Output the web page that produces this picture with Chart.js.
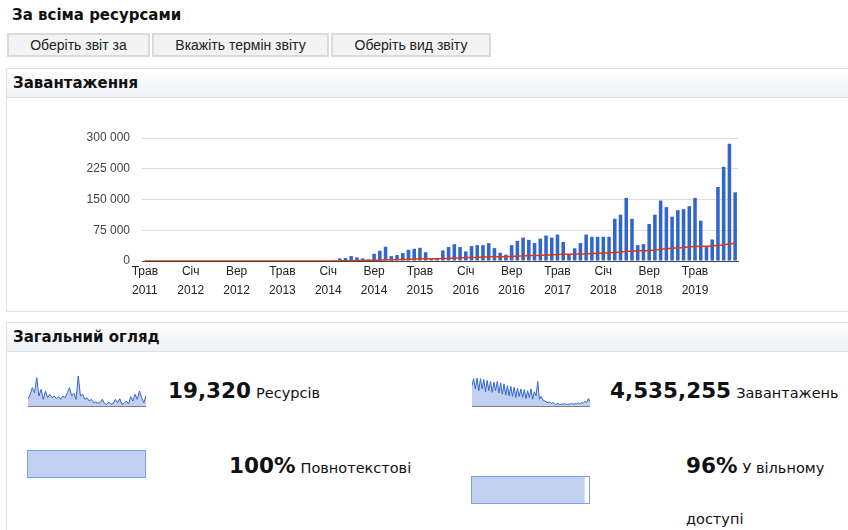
<!DOCTYPE html>
<html>
<head>
<meta charset="utf-8">
<script src="https://cdn.jsdelivr.net/npm/chart.js@4/dist/chart.umd.min.js"></script>
<style>
  body { margin: 0; background: #fff; width: 848px; height: 530px; overflow: hidden; position: relative; font-family: "DejaVu Sans", Verdana, sans-serif; color: #111; }
  .abs { position: absolute; }
  .title { left: 12px; top: 6px; font-size: 15px; font-weight: bold; }
  .btn { top: 33px; height: 20px; line-height: 20px; background: #f3f3f3; border: 2px solid #dadada; font-family: "Liberation Sans", Arial, sans-serif; font-size: 14px; text-align: center; color: #222; }
  .panel { left: 6px; width: 860px; border: 1px solid #e0e0e0; }
  .panel .hd { height: 28px; line-height: 29px; padding-left: 6px; font-weight: bold; font-size: 15px; background: linear-gradient(#ffffff, #eef0f2); border-bottom: 1px solid #dfe1e5; }
  .big { font-weight: bold; font-size: 21.5px; }
  .lbl { font-size: 14.5px; }
  .spark { border-bottom: 1px solid #7f7f7f; }
  .prog { border: 1px solid #7d9fe3; background: #fff; }
</style>
</head>
<body>
<div class="abs title">За всіма ресурсами</div>
<div class="abs btn" style="left:7px;width:139px;">Оберіть звіт за</div>
<div class="abs btn" style="left:152px;width:173px;">Вкажіть термін звіту</div>
<div class="abs btn" style="left:331px;width:156px;">Оберіть вид звіту</div>

<div class="abs panel" style="top:68px;height:242px;"><div class="hd">Завантаження</div></div>
<div class="abs" style="left:60px;top:110px;width:700px;height:200px;"><canvas id="mainChart"></canvas></div>

<div class="abs panel" style="top:322px;height:220px;"><div class="hd">Загальний огляд</div></div>

<div class="abs spark" style="left:28px;top:374px;width:118px;height:32px;"><canvas id="spark1"></canvas></div>
<div class="abs" style="left:168px;top:378px;"><span class="big">19,320</span> <span class="lbl">Ресурсів</span></div>

<div class="abs spark" style="left:472px;top:376px;width:118px;height:30px;"><canvas id="spark2"></canvas></div>
<div class="abs" style="left:610px;top:378px;"><span class="big">4,535,255</span> <span class="lbl">Завантажень</span></div>

<div class="abs prog" style="left:27px;top:450px;width:117px;height:26px;"><canvas id="prog1"></canvas></div>
<div class="abs" style="left:229px;top:453px;"><span class="big">100%</span> <span class="lbl">Повнотекстові</span></div>

<div class="abs prog" style="left:471px;top:476px;width:117px;height:26px;"><canvas id="prog2"></canvas></div>
<div class="abs" style="left:686px;top:453px;"><span class="big">96%</span> <span class="lbl">У вільному</span></div>
<div class="abs lbl" style="left:686px;top:511px;">доступі</div>

<script>
// months, starting May 2011
const monthNames = ['Січ', 'Лют', 'Бер', 'Квіт', 'Трав', 'Черв', 'Лип', 'Серп', 'Вер', 'Жовт', 'Лист', 'Груд'];
const startYear = 2011;
const startMonth = 4;
const monthCount = 104;
const labelEvery = 8;

const yTickLabels = ['0', '75 000', '150 000', '225 000', '300 000'];

// monthly downloads (bars)
const downloads = [
    0, 0, 0, 0, 0, 0, 0, 0, 0, 0,
    0, 0, 0, 0, 0, 0, 0, 0, 0, 0,
    0, 0, 0, 0, 0, 0, 0, 0, 0, 0,
    0, 0, 0, 2400, 6400, 7200, 12000, 8900, 6400, 4000,
    17700, 25000, 34700, 12000, 14500, 19300, 27400, 29800, 32200, 21500,
    7000, 7000, 25800, 34000, 41000, 34000, 23400, 36300, 38700, 38700,
    43500, 31500, 20000, 15300, 38700, 49000, 57000, 51500, 43700, 54500,
    62000, 57000, 64500, 46500, 16500, 31000, 43700, 64500, 59000, 59000,
    59000, 59000, 103000, 113000, 154000, 103000, 38700, 41100, 90300, 113000,
    147500, 131400, 108000, 124000, 126500, 133800, 154000, 98300, 34700, 52400,
    180500, 229700, 286000, 167600
];

// red line
const average = [
    0, 0, 0, 0, 0, 0, 0, 0, 0, 0,
    0, 0, 0, 0, 0, 0, 0, 0, 0, 0,
    0, 0, 0, 0, 0, 0, 0, 0, 0, 0,
    0, 0, 0, 100, 250, 450, 750, 1000, 1100, 1200,
    1600, 2100, 2900, 3100, 3400, 3700, 4200, 4700, 5300, 5700,
    5700, 5700, 6100, 6600, 7200, 7700, 8000, 8500, 9000, 9500,
    10000, 10400, 10600, 10700, 11100, 11700, 12300, 12900, 13400, 14000,
    14600, 15200, 15900, 16300, 16400, 16600, 17000, 17600, 18200, 18700,
    19200, 19700, 20700, 21900, 23400, 24400, 24700, 24900, 25700, 26900,
    28500, 29800, 30900, 32000, 33200, 34300, 35500, 36100, 36200, 36400,
    37700, 39500, 41800, 43000
];

// sparklines
const resourcesSpark = [
    20, 35, 55, 40, 85, 30, 50, 20, 45, 25, 35, 25, 30, 22, 28, 20, 30, 25, 40, 55,
    30, 38, 20, 90, 30, 35, 20, 25, 15, 20, 10, 12, 8, 10, 20, 8, 5, 12, 5, 8,
    20, 10, 22, 5, 8, 15, 6, 28, 15, 35, 20, 45, 25, 10, 30
];
const downloadsSpark = [
    60, 80, 50, 82, 45, 80, 50, 78, 42, 75, 45, 72, 40, 70, 45, 72, 38, 68, 35, 65,
    32, 60, 30, 58, 28, 55, 25, 52, 28, 50, 25, 48, 22, 45, 25, 50, 20, 42, 30, 72,
    20, 28, 18, 15, 12, 10, 12, 8, 10, 6, 5, 8, 4, 6, 5, 7, 4, 6, 5, 8,
    5, 7, 6, 9, 6, 10, 8, 14, 10, 22, 12
];

const fullTextPct = [100];
const openAccessPct = [96];

const categories = [];
for (let i = 0; i < monthCount; i++) {
    const m = (startMonth + i) % 12;
    const y = startYear + Math.floor((startMonth + i) / 12);
    categories.push([monthNames[m], String(y)]);
}

const axisFont = { family: '"Liberation Sans", Arial, sans-serif', size: 12 };

new Chart(document.getElementById('mainChart'), {
    type: 'bar',
    data: {
        labels: categories,
        datasets: [{
            type: 'line',
            data: average,
            borderColor: '#dc3912',
            borderWidth: 1.5,
            pointRadius: 0,
            tension: 0.3,
            order: 1
        }, {
            type: 'bar',
            data: downloads,
            backgroundColor: '#3366cc',
            barPercentage: 0.62,
            categoryPercentage: 1,
            order: 2
        }]
    },
    options: {
        responsive: true,
        maintainAspectRatio: false,
        animation: false,
        layout: { padding: { top: 28, right: 22, left: 0, bottom: 0 } },
        plugins: { legend: { display: false }, tooltip: { enabled: false } },
        scales: {
            x: {
                grid: { display: false },
                border: { display: true, color: '#444', width: 1 },
                ticks: {
                    autoSkip: false,
                    maxRotation: 0,
                    padding: -7,
                    color: '#222',
                    font: Object.assign({ lineHeight: 1.6 }, axisFont),
                    callback: function (value, index) {
                        return index % labelEvery === 0 ? categories[index] : null;
                    }
                },
                afterFit: function (scale) { scale.height = 49; }
            },
            y: {
                min: 0,
                max: 300000,
                ticks: {
                    stepSize: 75000,
                    padding: 12,
                    color: '#444',
                    font: axisFont,
                    callback: function (value, index) { return yTickLabels[index]; }
                },
                grid: { color: '#dddddd', drawTicks: false },
                border: { display: false },
                afterFit: function (scale) { scale.width = 82; }
            }
        }
    }
});

function sparkline(id, values, yMax) {
    new Chart(document.getElementById(id), {
        type: 'line',
        data: {
            labels: values.map((v, i) => i),
            datasets: [{
                data: values,
                borderColor: '#3366cc',
                borderWidth: 1,
                backgroundColor: '#c2d0ef',
                fill: 'origin',
                pointRadius: 0,
                tension: 0
            }]
        },
        options: {
            responsive: true,
            maintainAspectRatio: false,
            animation: false,
            layout: { padding: 0 },
            plugins: { legend: { display: false }, tooltip: { enabled: false } },
            scales: {
                x: { display: false },
                y: { display: false, min: 0, max: yMax }
            }
        }
    });
}

sparkline('spark1', resourcesSpark, 96);
sparkline('spark2', downloadsSpark, 88);

function progressBar(id, values) {
    new Chart(document.getElementById(id), {
        type: 'bar',
        data: {
            labels: [''],
            datasets: [{
                data: values,
                backgroundColor: '#c2d0ef',
                barPercentage: 1,
                categoryPercentage: 1
            }]
        },
        options: {
            indexAxis: 'y',
            responsive: true,
            maintainAspectRatio: false,
            animation: false,
            layout: { padding: 0 },
            plugins: { legend: { display: false }, tooltip: { enabled: false } },
            scales: {
                x: { display: false, min: 0, max: 100 },
                y: { display: false }
            }
        }
    });
}

progressBar('prog1', fullTextPct);
progressBar('prog2', openAccessPct);
</script>
</body>
</html>
